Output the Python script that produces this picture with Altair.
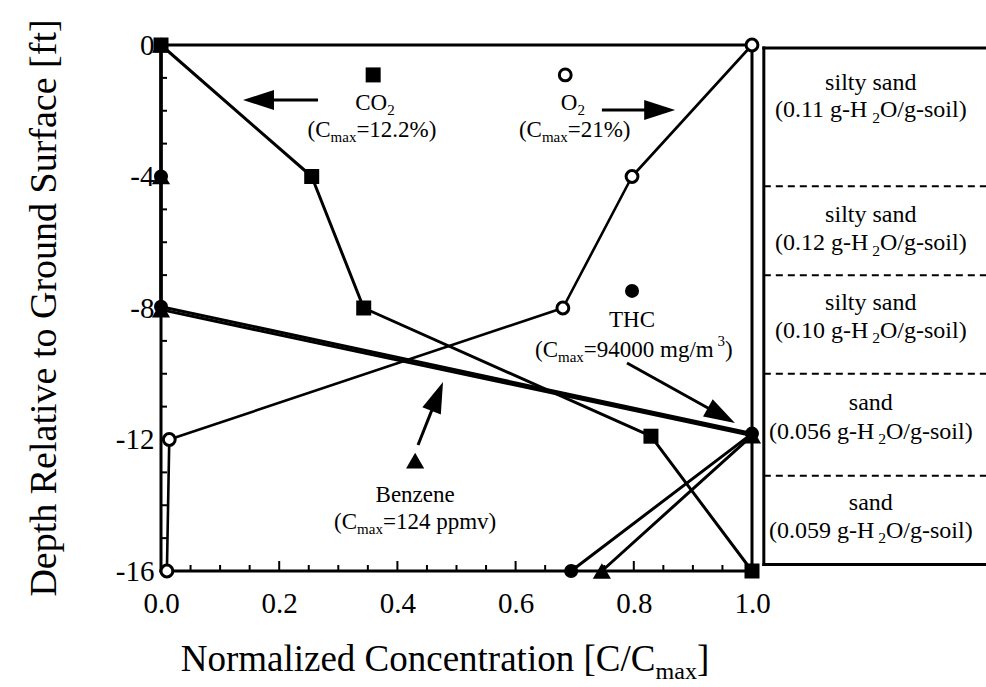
import math
import altair as alt
import pandas as pd

# ---------------- measured soil-gas profiles (C/Cmax vs depth in ft) ----------------
co2_conc = [0.0, 0.255, 0.343, 0.829, 1.0]
co2_depth = [0.0, -4.0, -8.0, -11.9, -16.0]

o2_conc = [1.0, 0.797, 0.680, 0.014, 0.010]
o2_depth = [0.0, -4.0, -8.0, -12.0, -16.0]

thc_conc = [0.0, 0.0, 0.0, 1.0, 0.694]
thc_depth = [0.0, -4.0, -7.96, -11.82, -16.0]

benz_conc = [0.0, 0.0, 0.0, 1.0, 0.746]
benz_depth = [0.0, -4.0, -8.05, -11.88, -16.0]

# soil column: layer boundaries and descriptions
soil_breaks = [-4.3, -7.0, -10.0, -13.1]
soil_types = ["silty sand", "silty sand", "silty sand", "sand", "sand"]
soil_moisture = ["0.11", "0.12", "0.10", "0.056", "0.059"]

x_tick_labels = [0.0, 0.2, 0.4, 0.6, 0.8, 1.0]
y_tick_labels = [0, -4, -8, -12, -16]

# ---------------- layout ----------------
FONT = "Liberation Serif"
LEFT, TOP = 161, 45
H = 526
W = 986 - LEFT
PX_X = 591.0            # pixels per unit of C/Cmax
PX_Y = H / 16.0         # pixels per ft
XMAX = W / PX_X

XSCALE = alt.Scale(domain=[0, XMAX], nice=False, zero=False)
YSCALE = alt.Scale(domain=[-16, 0], nice=False, zero=False)
XAXIS = alt.Axis(values=x_tick_labels, format=".1f", title=None, domain=False,
                 ticks=False, grid=False, labelFont=FONT, labelFontSize=29,
                 labelColor="black", labelPadding=18, labelFlush=False,
                 labelOverlap=False)
YAXIS = alt.Axis(values=y_tick_labels, labelExpr="'' + datum.value", title=None,
                 domain=False, ticks=False, grid=False, labelFont=FONT,
                 labelFontSize=29, labelColor="black", labelPadding=7,
                 labelFlush=False, labelOverlap=False)


def X(field="x"):
    return alt.X(field, type="quantitative", scale=XSCALE, axis=XAXIS, title=None)


def Y(field="y"):
    return alt.Y(field, type="quantitative", scale=YSCALE, axis=YAXIS, title=None)


# Times-metric advance widths (per 1000 em) for laying out sub/superscripts
ADV = {' ': 250, '(': 333, ')': 333, '.': 250, '%': 833, '=': 564, '/': 278,
       '-': 333, '[': 333, ']': 333, 'B': 667, 'C': 667, 'H': 722, 'N': 722,
       'O': 722, 'T': 611, 'a': 444, 'c': 444, 'd': 500, 'e': 444, 'g': 500,
       'i': 278, 'l': 278, 'm': 778, 'n': 500, 'o': 500, 'p': 500, 'r': 333,
       's': 389, 't': 278, 'v': 500, 'x': 500, 'y': 500, 'z': 444}


def adv(s, size):
    return sum(ADV.get(c, 500) for c in s) * size / 1000.0


def rich(cx, cy, size, parts):
    """Split a label into normal / sub / sup runs centred on (cx, cy)."""
    small = round(size * 0.65, 1)
    sizes = [small if role else size for _, role in parts]
    widths = [adv(t, s) for (t, _), s in zip(parts, sizes)]
    pos = -sum(widths) / 2.0
    rows = []
    for (t, role), s, w in zip(parts, sizes, widths):
        lead = len(t) - len(t.lstrip())
        shift = {"": 0.0, "sub": 0.32 * size, "sup": -0.38 * size}[role]
        rows.append({"x": cx + (pos + adv(t[:lead], s)) / PX_X,
                     "y": cy - shift / PX_Y, "text": t.lstrip(), "size": s})
        pos += w
    return rows


def profile(conc, depth):
    return pd.DataFrame({"x": conc, "y": depth, "i": list(range(len(conc)))})


co2 = profile(co2_conc, co2_depth)
o2 = profile(o2_conc, o2_depth)
thc = profile(thc_conc, thc_depth)
benz = profile(benz_conc, benz_depth)

layers = []

# plot frame
frame = pd.DataFrame({"x": [0, 0, 0, 1], "x2": [0, 1, 1, 1],
                      "y": [-16, -16, 0, -16], "y2": [0, -16, 0, 0]})
layers.append(alt.Chart(frame).mark_rule(color="black", strokeWidth=3, strokeCap="square")
              .encode(x=X(), x2="x2", y=Y(), y2="y2"))

# inward ticks
xt = [round(0.05 * k, 2) for k in range(1, 20)]
xt_len = [(10 if abs(v / 0.2 - round(v / 0.2)) < 1e-6 else 6) / PX_Y for v in xt]
xticks = pd.DataFrame({"x": xt, "x2": xt, "y": [-16] * len(xt),
                       "y2": [-16 + l for l in xt_len]})
yt = [float(d) for d in range(-15, 0)]
yticks = pd.DataFrame({"x": [0.0] * len(yt), "x2": [6 / PX_X] * len(yt), "y": yt, "y2": yt})
for t in (xticks, yticks):
    layers.append(alt.Chart(t).mark_rule(color="black", strokeWidth=2)
                  .encode(x=X(), x2="x2", y=Y(), y2="y2"))

# soil column panel
PANEL_X, PANEL_TOP, PANEL_BOT = 1.02, -0.09, -15.8
panel = pd.DataFrame({"x": [PANEL_X, PANEL_X, PANEL_X], "x2": [PANEL_X, XMAX, XMAX],
                      "y": [PANEL_TOP, PANEL_TOP, PANEL_BOT],
                      "y2": [PANEL_BOT, PANEL_TOP, PANEL_BOT]})
layers.append(alt.Chart(panel).mark_rule(color="black", strokeWidth=3, strokeCap="square")
              .encode(x=X(), x2="x2", y=Y(), y2="y2"))
dashes = pd.DataFrame({"x": [PANEL_X] * 4, "x2": [XMAX] * 4, "y": soil_breaks, "y2": soil_breaks})
layers.append(alt.Chart(dashes).mark_rule(color="black", strokeWidth=2, strokeDash=[7, 5])
              .encode(x=X(), x2="x2", y=Y(), y2="y2"))

# profile lines
for df, sw in ((o2, 2.6), (co2, 3), (thc, 3), (benz, 3)):
    layers.append(alt.Chart(df).mark_line(color="black", strokeWidth=sw, strokeJoin="round")
                  .encode(x=X(), y=Y(), order="i:Q"))

# legend-style markers next to the labels
key_thc = pd.DataFrame({"x": [0.797], "y": [-7.48]})
key_benz = pd.DataFrame({"x": [0.43], "y": [-12.64]})
key_co2 = pd.DataFrame({"x": [0.359], "y": [-0.91]})
key_o2 = pd.DataFrame({"x": [0.684], "y": [-0.91]})

# profile markers
for dfs, kw in (((thc, key_thc), dict(shape="circle", size=196, filled=True, color="black")),
                ((benz, key_benz), dict(shape="triangle-up", size=330, filled=True, color="black")),
                ((co2, key_co2), dict(shape="square", size=225, filled=True, color="black")),
                ((o2, key_o2), dict(shape="circle", size=140, filled=True, fill="white",
                                    stroke="black", strokeWidth=3))):
    for d in dfs:
        layers.append(alt.Chart(d).mark_point(opacity=1, **kw).encode(x=X(), y=Y()))

# arrows (start -> tip)
arrow_start_x = [0.2657, 0.746, 0.7885, 0.4349]
arrow_start_y = [-1.673, -1.977, -9.673, -12.167]
arrow_tip_x = [0.1387, 0.870, 0.9712, 0.4772]
arrow_tip_y = [-1.673, -1.977, -11.498, -10.251]
HEAD = 31.0
shafts, heads = [], []
for sx, sy, tx, ty in zip(arrow_start_x, arrow_start_y, arrow_tip_x, arrow_tip_y):
    dx = (tx - sx) * PX_X
    dy = -(ty - sy) * PX_Y
    n = math.hypot(dx, dy)
    ux, uy = dx / n, dy / n
    ex = tx - ux * HEAD * 0.5 / PX_X
    ey = ty + uy * HEAD * 0.5 / PX_Y
    shafts.append({"x": sx, "y": sy, "x2": ex, "y2": ey})
    heads.append({"x": tx, "y": ty, "angle": math.degrees(math.atan2(dx, -dy)) % 360})
layers.append(alt.Chart(pd.DataFrame(shafts)).mark_rule(color="black", strokeWidth=3)
              .encode(x=X(), x2="x2", y=Y(), y2="y2"))
layers.append(alt.Chart(pd.DataFrame(heads))
              .mark_point(shape="M0,0L0.32,1L-0.32,1Z", size=(2 * HEAD) ** 2, filled=True,
                          color="black", opacity=1)
              .encode(x=X(), y=Y(), angle=alt.Angle("angle:Q", scale=None)))

# labels with sub/superscripts
rows = []
rows += rich(0.362, -1.76, 23, [("CO", ""), ("2", "sub")])
rows += rich(0.357, -2.58, 23, [("(C", ""), ("max", "sub"), ("=12.2%)", "")])
rows += rich(0.697, -1.76, 23, [("O", ""), ("2", "sub")])
rows += rich(0.700, -2.58, 23, [("(C", ""), ("max", "sub"), ("=21%)", "")])
rows += rich(0.797, -8.36, 23, [("THC", "")])
rows += rich(0.800, -9.27, 23, [("(C", ""), ("max", "sub"), ("=94000 mg/m", ""), (" 3", "sup"), (")", "")])
rows += rich(0.43, -13.68, 23, [("Benzene", "")])
rows += rich(0.43, -14.50, 23, [("(C", ""), ("max", "sub"), ("=124 ppmv)", "")])

soil_name_y = [-1.16, -5.17, -7.84, -10.88, -13.92]
soil_note_y = [-1.98, -6.02, -8.69, -11.76, -14.77]
for name, w, ny, wy in zip(soil_types, soil_moisture, soil_name_y, soil_note_y):
    rows += rich(1.201, ny, 24, [(name, "")])
    rows += rich(1.201, wy, 24, [("(" + w + " g-H", ""), (" 2", "sub"), ("O/g-soil)", "")])

# x-axis title
rows += rich(0.4805, -18.71, 37, [("Normalized Concentration [C/C", ""), ("max", "sub"), ("]", "")])

labels = pd.DataFrame(rows)
layers.append(alt.Chart(labels).mark_text(align="left", baseline="middle", font=FONT, color="black")
              .encode(x=X(), y=Y(), text="text:N", size=alt.Size("size:Q", scale=None)))

# y-axis title
ytitle = pd.DataFrame({"x": [-0.196], "y": [-8.0], "text": ["Depth Relative to Ground Surface [ft]"]})
layers.append(alt.Chart(ytitle).mark_text(angle=270, align="center", baseline="middle", font=FONT,
                                          fontSize=38, color="black")
              .encode(x=X(), y=Y(), text="text:N"))

chart = (alt.layer(*layers)
         .properties(width=W, height=H, autosize="none",
                     padding={"left": LEFT, "top": TOP, "right": 0, "bottom": 687 - TOP - H},
                     background="white")
         .configure_view(stroke=None))

chart.save("out.html", embed_options={"renderer": "svg", "actions": False})
